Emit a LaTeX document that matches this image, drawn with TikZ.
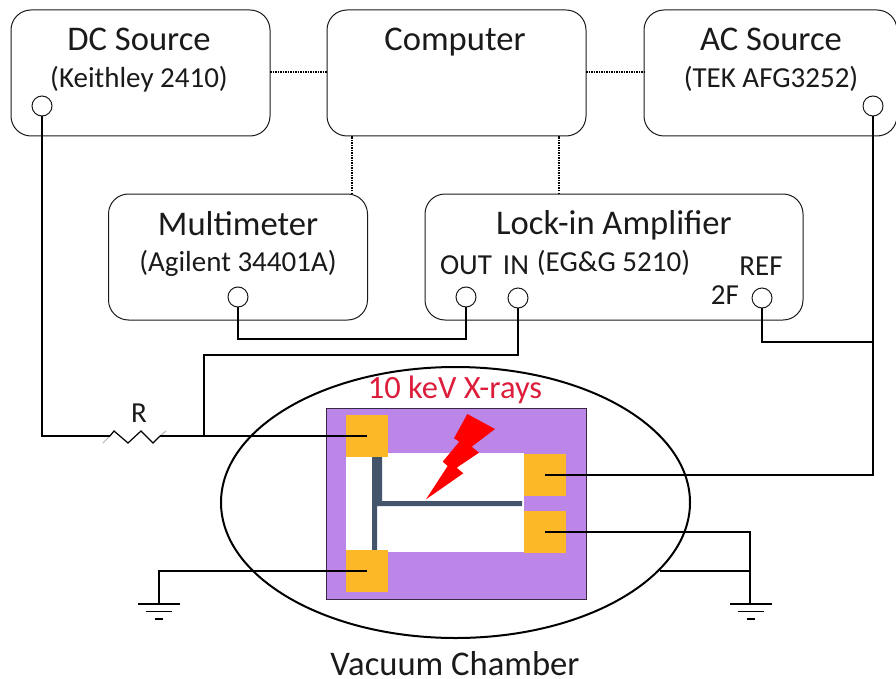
\documentclass[tikz,border=0pt]{standalone}
\usepackage{fontspec}
\setmainfont{Carlito}
\usetikzlibrary{shapes.geometric}
\usetikzlibrary{positioning}
\usetikzlibrary{calc}
\definecolor{chamberpurple}{HTML}{BB86E8}
\definecolor{padorange}{HTML}{FDB827}
\definecolor{bardark}{HTML}{44546A}
\definecolor{xrayred}{HTML}{DC1E3C}
\definecolor{inkgray}{HTML}{1A1A1A}
\newcommand{\bigsize}{\fontsize{34.6}{35}\selectfont}
\newcommand{\smallsize}{\fontsize{29}{29}\selectfont}
\tikzstyle{instrument} = [rectangle, draw=inkgray, line width=1pt, rounded corners=20pt, minimum width=259pt, minimum height=126pt, inner sep=0pt, outer sep=0pt]
\tikzstyle{port} = [circle, draw=inkgray, line width=1pt, fill=white, minimum size=20pt, inner sep=0pt, outer sep=0pt]
\tikzstyle{pad} = [rectangle, fill=padorange, minimum size=42pt, inner sep=0pt, outer sep=0pt]
\tikzstyle{title} = [text=inkgray, inner sep=0pt, anchor=base, font=\bigsize]
\tikzstyle{model} = [text=inkgray, inner sep=0pt, anchor=base, font=\smallsize]
\tikzstyle{wire} = [black, line width=1.7pt]
\tikzstyle{link} = [black, line width=1.5pt, densely dotted]
\tikzstyle{earth} = [black, line width=1.3pt]
\begin{document}
\begin{tikzpicture}[x=1pt,y=-1pt]
            \useasboundingbox (0,0) rectangle (896,679);
            % instruments
            \node[instrument] (dcsource) at (140.5,73) {};
            \node[instrument] (computer) [right = 57pt of dcsource] {};
            \node[instrument, minimum width=253pt] (acsource) [right = 58pt of computer] {};
            \node[instrument] (multimeter) at (238,257) {};
            \node[instrument, minimum width=378pt] (lockin) at (614,257) {};
            \node[title] (dctitle) at (139,51) {DC Source};
            \node[model] (dcmodel) at (139,88) {(Keithley 2410)};
            \node[title] (comptitle) at (455,51) {Computer};
            \node[title] (actitle) at (771,51) {AC Source};
            \node[model] (acmodel) at (771,88) {(TEK AFG3252)};
            \node[title] (multititle) at (238,235) {Multimeter};
            \node[model] (multimodel) at (238,271) {(Agilent 34401A)};
            \node[title] (locktitle) at (614,234) {Lock-in Amplifier};
            \node[model] (lockmodel) at (613.5,271) {(EG\&G 5210)};
            \node[model] (outlabel) at (466,274) {OUT};
            \node[model] (inlabel) at (516,274) {IN};
            \node[model] (reflabel) at (761,275) {REF};
            \node[model] (twoflabel) at (725,304) {2F};
            % ports
            \node[port] (dcport) at (42,106) {};
            \node[port] (acport) at (873,106) {};
            \node[port] (multiport) at (238,297) {};
            \node[port] (outport) at (466,297) {};
            \node[port] (inport) at (518,298) {};
            \node[port] (refport) at (762,298) {};
            % dotted links
            \draw[link] (dcsource.east |- 0,72) -- (computer.west |- 0,72);
            \draw[link] (computer.east |- 0,72) -- (acsource.west |- 0,72);
            \draw[link] (multimeter.north -| 352,0) -- (computer.south -| 352,0);
            \draw[link] (lockin.north -| 559,0) -- (computer.south -| 559,0);
            % chamber and sample
            \node[ellipse, draw=black, line width=2pt, minimum width=469pt, minimum height=271pt, inner sep=0pt, outer sep=0pt] (chamber) at (455.5,502.5) {};
            \node[rectangle, draw=black!70!chamberpurple, fill=chamberpurple, line width=.8pt, minimum width=260pt, minimum height=191pt, inner sep=0pt, outer sep=0pt] (sample) at (456,503.5) {};
            \node[rectangle, fill=white, minimum width=178pt, minimum height=99pt, inner sep=0pt, outer sep=0pt] (channel) at (435,502.5) {};
            \fill[bardark] (372,456) rectangle (382,502) (372,500) rectangle (377,552) (376,501) rectangle (522,506);
            \node[pad] (tlpad) at (367,436) {};
            \node[pad] (blpad) at (367,571) {};
            \node[pad] (trpad) at (545,475) {};
            \node[pad] (brpad) at (545,532) {};
            \fill[red] (467.3,414) -- (495,429) -- (471.7,446.7) -- (479,452.7) -- (456.7,467.7) -- (463.3,473.3) -- (426,499.3) -- (447.7,466) -- (442.7,461.7) -- (459.3,441.7) -- (454,438.3) -- cycle;
            \node[text=xrayred, inner sep=0pt, anchor=base, font=\fontsize{32.5}{33}\selectfont] (xrays) at (455,398) {10 keV X-rays};
            \node[title, text depth=0pt] (chambername) at (455,675) {Vacuum Chamber};
            % resistor
            \coordinate (rleft) at (110,436);
            \coordinate (rright) at (160,436);
            \coordinate (tapleft) at (204,436);
            \draw[black, line width=1.2pt] (rleft) -- (114,431) -- (128,443) -- (141,431) -- (153,443) -- (rright);
            \draw[gray!60, line width=1pt] (103,443) -- (rleft) (rright) -- (166,431);
            \node[model] (rlabel) at (139,422) {R};
            % wires
            \draw[wire] (dcport.south) |- (rleft);
            \draw[wire] (rright) -- (tapleft) -- (tlpad.center);
            \draw[wire] (tapleft) -- (204,355) -| (inport.south);
            \draw[wire] (multiport.south) |- (outport.south |- 0,339) -- (outport.south);
            \draw[wire] (refport.south) |- (873,342);
            \draw[wire] (acport.south) |- (trpad.center);
            \draw[wire] (brpad.center) -| (750,605);
            \draw[wire] (660,571) -- (750,571);
            \draw[wire] (blpad.center) -| (159,604);
            % grounds
            \foreach \gx in {159,751} {
              \draw[earth] (\gx-21,604) -- (\gx+21,604);
              \draw[earth] (\gx-13,611.5) -- (\gx+13,611.5);
              \draw[earth] (\gx-4,619) -- (\gx+4,619);
            }
          \end{tikzpicture}
\end{document}
